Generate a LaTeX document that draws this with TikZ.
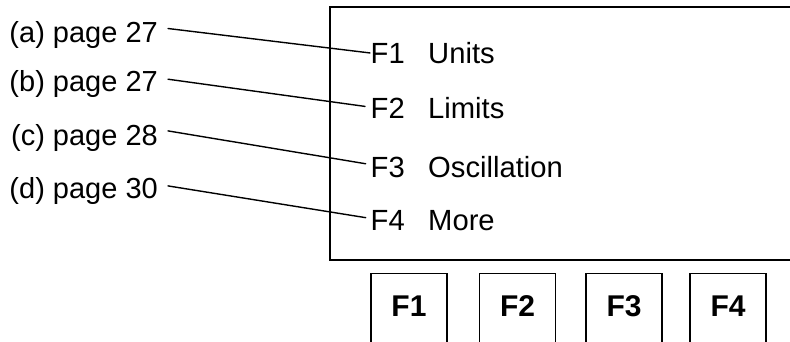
\documentclass[tikz,border=0pt]{standalone}
\usepackage{fontspec}
\setmainfont{Liberation Sans}
\begin{document}
\begin{tikzpicture}[x=1pt,y=-1pt,
  lbl/.style={inner sep=0pt, anchor=base east, font=\fontsize{29}{34}\selectfont},
  keytxt/.style={inner sep=0pt, anchor=base west, font=\fontsize{29.2}{34}\selectfont},
  lead/.style={line width=1.4pt, line cap=round},
  screen/.style={line width=2.2pt},
  btn/.style={draw=black, line width=1.2pt, minimum width=76pt, minimum height=72pt,
    anchor=north, inner sep=0pt, text height=20.5pt, text depth=6pt,
    font=\fontsize{30}{36}\selectfont\bfseries}]
\useasboundingbox (0,0) rectangle (790,341);
% screen (right side runs off the picture)
\draw[screen] (796,7) -- (330,7) -- (330,260) -- (796,260);
% left labels
\node[lbl] (la) at (158,42) {(a) page 27};
\node[lbl] (lb) at (158,91.7) {(b) page 27};
\node[lbl] (lc) at (158,145) {(c) page 28};
\node[lbl] (ld) at (158,198) {(d) page 30};
% menu entries
\node[keytxt] (k1) at (370.5,63) {F1};
\node[keytxt] (k2) at (370.5,118) {F2};
\node[keytxt] (k3) at (370.5,177.5) {F3};
\node[keytxt] (k4) at (370.5,230.7) {F4};
\node[keytxt] (t1) at (428,63) {Units};
\node[keytxt] (t2) at (428,118) {Limits};
\node[keytxt] (t3) at (428,177.5) {Oscillation};
\node[keytxt] (t4) at (428,230.7) {More};
% leader lines
\draw[lead] ([xshift=10pt,yshift=6pt]la.east) -- ([xshift=-0.5pt]k1.west);
\draw[lead] ([xshift=10pt,yshift=5pt]lb.east) -- ([xshift=-5.5pt,yshift=1.4pt]k2.west);
\draw[lead] ([xshift=10pt,yshift=6.6pt]lc.east) -- ([xshift=-4.8pt,yshift=3.7pt]k3.west);
\draw[lead] ([xshift=10pt,yshift=4.6pt]ld.east) -- ([xshift=-4.8pt,yshift=3pt]k4.west);
% function buttons
\node[btn] (b1) at (409,273) {F1};
\node[btn] (b2) at (517.5,273) {F2};
\node[btn] (b3) at (624,273) {F3};
\node[btn] (b4) at (728,273) {F4};
\end{tikzpicture}
\end{document}
